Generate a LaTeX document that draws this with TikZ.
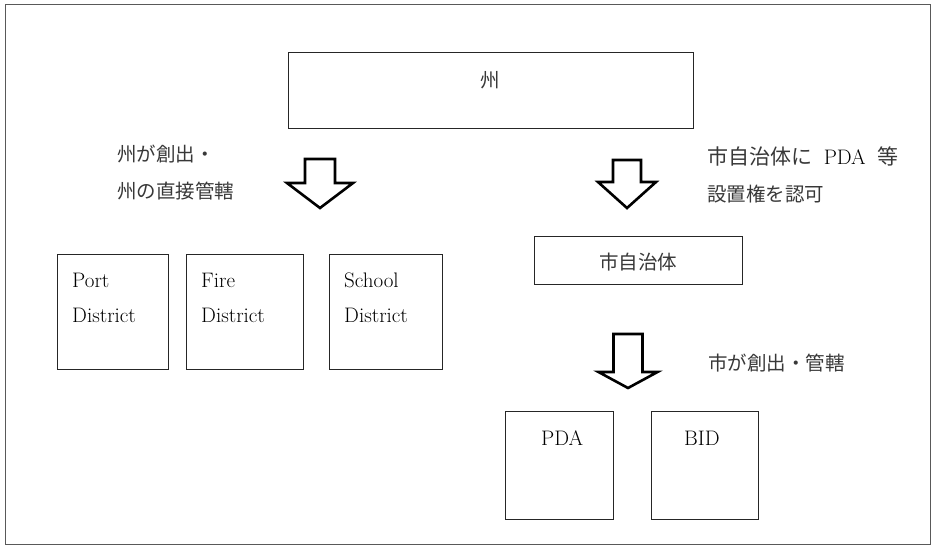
\documentclass[tikz,border=0pt]{standalone}
\usepackage{fontspec}
\newfontfamily\jp{Noto Sans CJK JP}
\begin{document}
\begin{tikzpicture}[x=1pt,y=-1pt,
  box/.style={draw=black!85,line width=0.9pt,inner sep=0pt,anchor=north west},
  frm/.style={draw=black!65,line width=1.3pt,inner sep=0pt,anchor=north west},
  txt/.style={inner sep=0pt,anchor=base west,text=black,font=\fontsize{21}{24}\selectfont},
  jtxt/.style={txt,text=black!78,font=\fontsize{19.5}{24}\selectfont\jp},
  arrowline/.style={draw=black,line width=2.6pt,line join=miter,fill=white},
  pics/blockarrow/.style n args={4}{code={
    \draw[arrowline] (-#1,0) -- (#1,0) -- (#1,#3) -- (#2,#3) -- (0,#4) -- (-#2,#3) -- (-#1,#3) -- cycle;}}]
\useasboundingbox (0,0) rectangle (934,547);
% frame
\node[frm,minimum width=925pt,minimum height=540pt] (frame) at (5,4) {};
% state box
\node[box,minimum width=405pt,minimum height=76pt] (state) at (288,52) {};
\node[jtxt,anchor=center] (stateT) at (490,80) {州};
% left labels
\node[jtxt] (l1) at (117,161) {州が創出・};
\node[jtxt] (l2) at (117,198) {州の直接管轄};
% right labels
\node[txt,text=black!78] (r1) at (707,164) {{\jp 市自治体に}\hspace{0.55em}\textcolor{black}{PDA}\hspace{0.55em}{\jp 等}};
\node[jtxt] (r2) at (707,201) {設置権を認可};
% arrows
\pic at (320,159) {blockarrow={15}{33}{24}{49}};
\pic at (627,160) {blockarrow={14}{29}{22}{48}};
\pic at (628,334) {blockarrow={14.5}{29.5}{38}{54}};
% city box
\node[box,minimum width=208pt,minimum height=48pt] (city) at (534,236) {};
\node[jtxt,anchor=center] (cityT) at (638,262) {市自治体};
% districts
\node[box,minimum width=111pt,minimum height=115pt] (port) at (57,254) {};
\node[box,minimum width=117pt,minimum height=115pt] (fire) at (186,254) {};
\node[box,minimum width=113pt,minimum height=115pt] (school) at (329,254) {};
\node[txt] (p1) at (72,287) {Port};
\node[txt] (p2) at (72,322) {District};
\node[txt] (f1) at (201,287) {Fire};
\node[txt] (f2) at (201,322) {District};
\node[txt] (s1) at (344,287) {School};
\node[txt] (s2) at (344,322) {District};
% city label
\node[jtxt] (c1) at (708,370) {市が創出・管轄};
% PDA BID
\node[box,minimum width=108pt,minimum height=108pt] (pda) at (505,411) {};
\node[box,minimum width=107pt,minimum height=108pt] (bid) at (651,411) {};
\node[txt] (pdaT) at (541,445) {PDA};
\node[txt] (bidT) at (684,445) {BID};
\end{tikzpicture}
\end{document}
